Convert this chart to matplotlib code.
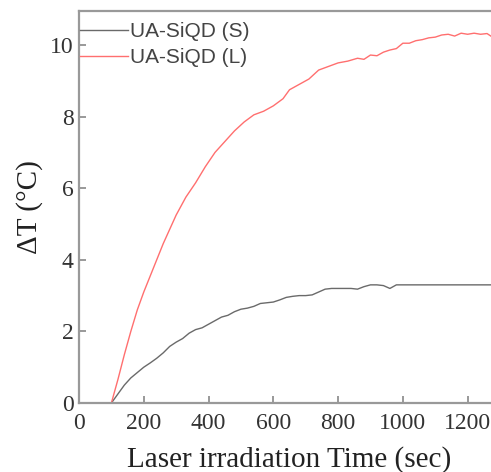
import matplotlib
matplotlib.use("Agg")
import matplotlib.pyplot as plt

# Data
red_t = [100, 120, 140, 160, 180, 200, 220, 240, 260, 280, 300, 330, 360, 390, 420, 450,
         480, 510, 540, 570, 600, 630, 650, 680, 710, 740, 770, 800, 830, 860, 880, 900,
         920, 940, 960, 980, 1000, 1020, 1040, 1060, 1080, 1100, 1120, 1140, 1160, 1180,
         1200, 1220, 1240, 1260, 1280]
red_v = [0, 0.65, 1.35, 2.0, 2.6, 3.1, 3.55, 4.0, 4.45, 4.85, 5.25, 5.75, 6.15, 6.6, 7.0, 7.3,
         7.6, 7.85, 8.05, 8.15, 8.3, 8.5, 8.75, 8.9, 9.05, 9.3, 9.4, 9.5, 9.55, 9.63, 9.6, 9.72,
         9.7, 9.8, 9.86, 9.9, 10.05, 10.05, 10.12, 10.15, 10.2, 10.22, 10.28, 10.3, 10.25, 10.33,
         10.3, 10.33, 10.3, 10.32, 10.2]

black_t = [100, 120, 140, 160, 180, 200, 220, 240, 260, 280, 300, 320, 340, 360, 380, 400,
           420, 440, 460, 480, 500, 520, 540, 560, 580, 600, 620, 640, 660, 680, 700, 720,
           740, 760, 780, 800, 820, 840, 860, 880, 900, 920, 940, 960, 980, 1000, 1100, 1200, 1280]
black_v = [0, 0.25, 0.5, 0.7, 0.85, 1.0, 1.12, 1.25, 1.4, 1.58, 1.7, 1.8, 1.95, 2.05, 2.1, 2.2,
           2.3, 2.4, 2.45, 2.55, 2.62, 2.65, 2.7, 2.78, 2.8, 2.82, 2.88, 2.95, 2.98, 3.0, 3.0, 3.02,
           3.1, 3.18, 3.2, 3.2, 3.2, 3.2, 3.18, 3.25, 3.3, 3.3, 3.28, 3.2, 3.3, 3.3, 3.3, 3.3, 3.3]

labels = ["UA-SiQD (S)", "UA-SiQD (L)"]
x_ticks = [0, 200, 400, 600, 800, 1000, 1200]
y_ticks = [0, 2, 4, 6, 8, 10]

fig = plt.figure(figsize=(4.91, 4.72), dpi=100)
ax = fig.add_axes([79/491, 69/472, 421/491, 392/472])

ax.plot(black_t, black_v, color="#6a6a6a", lw=1.0, label=labels[0])
ax.plot(red_t, red_v, color="#ff6f6f", lw=1.0, label=labels[1])

ax.set_xlim(0, 1300)
ax.set_ylim(0, 10.95)
ax.set_xticks(x_ticks)
ax.set_yticks(y_ticks)

serif = "Liberation Serif"
for lab in ax.get_xticklabels() + ax.get_yticklabels():
    lab.set_fontfamily(serif)
    lab.set_fontsize(17)
    lab.set_color("#333333")
ax.tick_params(direction="in", length=5, width=1.2, color="#888888")
ax.tick_params(axis="x", pad=7)
ax.tick_params(axis="y", pad=4)

for s in ax.spines.values():
    s.set_color("#999999")
    s.set_linewidth(1.6)

ax.set_xlabel("Laser irradiation Time (sec)", fontfamily=serif, fontsize=21,
              color="#222222", labelpad=9)
ax.set_ylabel("ΔT (°C)", fontfamily=serif, fontsize=21, color="#222222", labelpad=5)

leg = ax.legend(loc="upper left", bbox_to_anchor=(0.002, 0.972), frameon=False,
                prop={"family": "Liberation Sans", "size": 15},
                handlelength=2.3, handletextpad=0.1, borderaxespad=0.0, borderpad=0.0,
                labelspacing=0.35)
for t in leg.get_texts():
    t.set_color("#444444")

fig.savefig("out.png", dpi=100)
